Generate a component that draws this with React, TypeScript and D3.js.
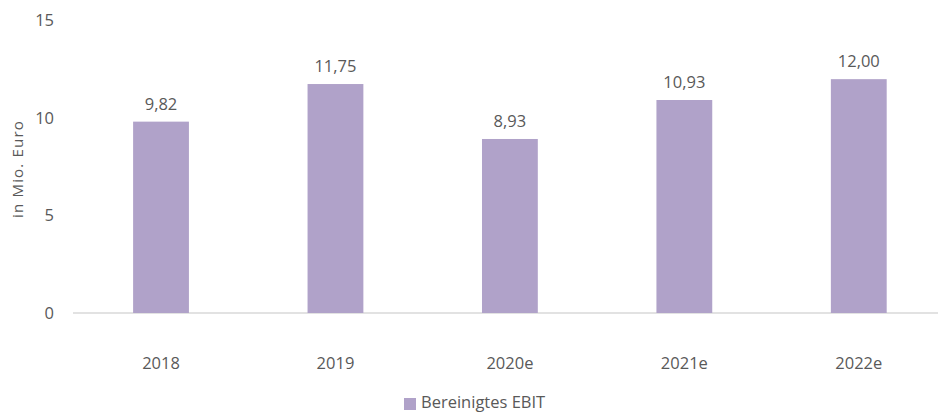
import React from "react";
import * as d3 from "d3";

const categories = ["2018", "2019", "2020e", "2021e", "2022e"];
const values = [9.82, 11.75, 8.93, 10.93, 12.0];
const valueLabels = ["9,82", "11,75", "8,93", "10,93", "12,00"];
const yTicks = [0, 5, 10, 15];
const seriesName = "Bereinigtes EBIT";

const W = 938;
const H = 414;
const COLOR = "#B0A2C9";
const TEXT = "#595959";
const FONT = "'Open Sans', 'Noto Sans', sans-serif";
const FS = 16.5;

export default function App() {
  const x = d3.scaleBand<string>().domain(categories).range([73.8, 946]).paddingInner(0.68).paddingOuter(0.34);
  const y = d3.scaleLinear().domain([0, 15]).range([313, 20.7]);
  return (
    <svg width={W} height={H} style={{ position: "absolute", left: 0, top: 0, fontFamily: FONT }}>
      <line x1={73} x2={W} y1={y(0)} y2={y(0)} stroke="#D9D9D9" strokeWidth={1.5} />
      {yTicks.map((t) => (
        <text key={t} x={54} y={y(t)} dy="0.35em" textAnchor="end" fontSize={FS} fill={TEXT}>
          {t}
        </text>
      ))}
      <text transform={`translate(18,${169}) rotate(-90)`} textAnchor="middle" dy="0.35em" fontSize={15} letterSpacing={1.2} fill={TEXT}>
        in Mio. Euro
      </text>
      {categories.map((c, i) => (
        <g key={c}>
          <rect x={x(c)} y={y(values[i])} width={x.bandwidth()} height={y(0) - y(values[i])} fill={COLOR} />
          <text x={x(c)! + x.bandwidth() / 2} y={y(values[i]) - 12} textAnchor="middle" fontSize={FS} fill={TEXT}>
            {valueLabels[i]}
          </text>
          <text x={x(c)! + x.bandwidth() / 2} y={363} dy="0.35em" textAnchor="middle" fontSize={FS} fill={TEXT}>
            {c}
          </text>
        </g>
      ))}
      <rect x={404} y={398} width={12} height={12} fill={COLOR} />
      <text x={421} y={402} dy="0.35em" fontSize={16.5} fill={TEXT}>
        {seriesName}
      </text>
    </svg>
  );
}
